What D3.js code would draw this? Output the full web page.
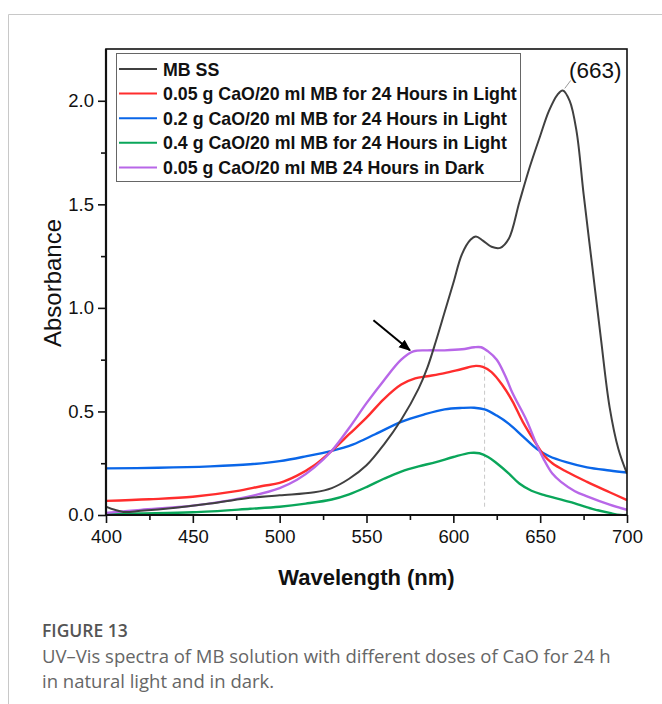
<!DOCTYPE html>
<html>
<head>
<meta charset="utf-8">
<script src="https://cdn.jsdelivr.net/npm/d3@7"></script>
<style>
  body { margin: 0; background: #fff; }
  svg { display: block; }
</style>
</head>
<body>
<svg id="chart" width="662" height="704"></svg>
<script>
// ---- data ----
const seriesNames = [
  "MB SS",
  "0.05 g CaO/20 ml MB for 24 Hours in Light",
  "0.2 g CaO/20 ml MB for 24 Hours in Light",
  "0.4 g CaO/20 ml MB for 24 Hours in Light",
  "0.05 g CaO/20 ml MB 24 Hours in Dark"
];
const seriesColors = ["#404040", "#ff2d2d", "#0a66e8", "#0aa65a", "#b867e8"];

const mbWavelength = [400,405,410,420,440,460,480,500,520,530,540,550,560,570,580,585,590,595,600,605,610,613,617,622,627,632,638,644,650,655,660,663,667,671,675,680,685,690,695,700];
const mbAbs        = [0.04,0.025,0.015,0.02,0.035,0.055,0.08,0.095,0.11,0.13,0.175,0.24,0.34,0.46,0.61,0.71,0.84,0.98,1.12,1.26,1.33,1.345,1.325,1.295,1.29,1.335,1.51,1.68,1.83,1.95,2.03,2.05,2.0,1.85,1.55,1.2,0.85,0.52,0.32,0.2];

const red05Wavelength = [400,425,450,475,490,500,510,520,530,540,550,560,570,578,585,595,605,613,617,622,628,634,640,648,652,657,665,677,690,700];
const red05Abs        = [0.068,0.076,0.088,0.115,0.14,0.155,0.19,0.24,0.31,0.39,0.47,0.56,0.63,0.66,0.67,0.685,0.705,0.72,0.715,0.69,0.63,0.55,0.45,0.34,0.29,0.25,0.21,0.16,0.11,0.072];

const blue02Wavelength = [400,430,460,483,500,515,530,542,555,570,583,595,605,612,618,625,632,640,648,655,665,677,690,700];
const blue02Abs        = [0.225,0.228,0.235,0.245,0.26,0.283,0.31,0.34,0.39,0.45,0.485,0.51,0.517,0.518,0.51,0.48,0.44,0.38,0.32,0.285,0.255,0.23,0.215,0.205];

const green04Wavelength = [400,420,450,483,500,515,530,540,550,560,570,580,590,600,610,615,620,625,632,638,645,652,667,680,690,696,700];
const green04Abs        = [0.005,0.008,0.013,0.03,0.04,0.055,0.075,0.10,0.135,0.175,0.21,0.235,0.255,0.28,0.30,0.298,0.28,0.25,0.20,0.152,0.117,0.097,0.063,0.03,0.01,0.0,0.0];

const darkWavelength = [400,420,450,480,500,510,520,530,540,550,560,570,577,585,595,605,612,616,620,625,630,634,642,648,652,657,662,670,677,690,700];
const darkAbs        = [0.01,0.025,0.045,0.085,0.13,0.17,0.23,0.31,0.42,0.54,0.65,0.75,0.79,0.795,0.795,0.80,0.81,0.81,0.79,0.75,0.67,0.59,0.46,0.34,0.27,0.20,0.16,0.115,0.09,0.05,0.025];

const xTicks = [400,450,500,550,600,650,700];
const xMinorTicks = [425,475,525,575,625,675];
const yTicks = [0.0,0.5,1.0,1.5,2.0];
const yMinorTicks = [0.25,0.75,1.25,1.75];

const peakLabel = "(663)";
const peakWavelength = 663;
const peakAbs = 2.05;
const dashedWavelength = 618;
const dashedRange = [0.04, 0.78];
const arrowFrom = [554, 0.94];
const arrowTo = [575, 0.795];

const xLabel = "Wavelength (nm)";
const yLabel = "Absorbance";
const figTitle = "FIGURE 13";
const captionLines = [
  "UV\u2013Vis spectra of MB solution with different doses of CaO for 24 h",
  "in natural light and in dark."
];

// ---- drawing ----
const svg = d3.select("#chart");
const L = 106, R = 627, T = 49, B = 515;
const x = d3.scaleLinear().domain([400, 700]).range([L, R]);
const y = d3.scaleLinear().domain([0, 2.25]).range([B, T]);
const FONT = "Liberation Sans, Arial, sans-serif";

// card border
svg.append("line").attr("x1", 8.5).attr("x2", 662).attr("y1", 14.5).attr("y2", 14.5).attr("stroke", "#c8c8c8").attr("stroke-width", 1);
svg.append("line").attr("x1", 8.5).attr("x2", 8.5).attr("y1", 14.5).attr("y2", 704).attr("stroke", "#c8c8c8").attr("stroke-width", 1);

const defs = svg.append("defs");
defs.append("clipPath").attr("id", "clip").append("rect")
  .attr("x", L).attr("y", T).attr("width", R - L).attr("height", B - T);
defs.append("marker").attr("id", "arrowhead").attr("viewBox", "0 0 10 10")
  .attr("refX", 9).attr("refY", 5).attr("markerWidth", 6).attr("markerHeight", 6)
  .attr("markerUnits", "strokeWidth")
  .attr("orient", "auto").append("path").attr("d", "M0,1 L10,5 L0,9 z").attr("fill", "#000");

// dashed vertical line
svg.append("line")
  .attr("x1", x(dashedWavelength)).attr("x2", x(dashedWavelength))
  .attr("y1", y(dashedRange[0])).attr("y2", y(dashedRange[1]))
  .attr("stroke", "#c8c8c8").attr("stroke-width", 1).attr("stroke-dasharray", "4,3");

const allSeries = [
  [mbWavelength, mbAbs],
  [red05Wavelength, red05Abs],
  [blue02Wavelength, blue02Abs],
  [green04Wavelength, green04Abs],
  [darkWavelength, darkAbs]
];

const line = d3.line().x(d => x(d[0])).y(d => y(d[1])).curve(d3.curveCatmullRom.alpha(0.5));
const g = svg.append("g").attr("clip-path", "url(#clip)");
const order = [2, 3, 1, 4, 0];
order.forEach(i => {
  const [wx, wy] = allSeries[i];
  const pts = wx.map((w, k) => [w, wy[k]]);
  g.append("path").datum(pts).attr("d", line)
    .attr("fill", "none").attr("stroke", seriesColors[i])
    .attr("stroke-width", i === 0 ? 2 : 2.4).attr("stroke-linejoin", "round");
});

// axes
const xAxis = d3.axisBottom(x).tickValues(xTicks).tickSize(8).tickPadding(7).tickFormat(d3.format("d"));
const xMinor = d3.axisBottom(x).tickValues(xMinorTicks).tickSize(5).tickFormat("");
const yAxis = d3.axisLeft(y).tickValues(yTicks).tickSize(8).tickPadding(4).tickFormat(d3.format(".1f"));
const yMinor = d3.axisLeft(y).tickValues(yMinorTicks).tickSize(5).tickFormat("");

function styleAxis(sel) {
  sel.select(".domain").remove();
  sel.selectAll(".tick line").attr("stroke", "#111").attr("stroke-width", 1.6);
  sel.selectAll(".tick text").attr("font-family", FONT)
    .attr("font-size", 18.5).attr("fill", "#111");
}
svg.append("g").attr("transform", `translate(0,${B})`).call(xAxis).call(styleAxis);
svg.append("g").attr("transform", `translate(0,${B})`).call(xMinor).call(styleAxis);
svg.append("g").attr("transform", `translate(${L},0)`).call(yAxis).call(styleAxis);
svg.append("g").attr("transform", `translate(${L},0)`).call(yMinor).call(styleAxis);

// frame
svg.append("rect").attr("x", L).attr("y", T).attr("width", R - L).attr("height", B - T)
  .attr("fill", "none").attr("stroke", "#111").attr("stroke-width", 1.6);
svg.append("line").attr("x1", L).attr("x2", L).attr("y1", T).attr("y2", B).attr("stroke", "#111").attr("stroke-width", 2.2);
svg.append("line").attr("x1", L).attr("x2", R).attr("y1", B).attr("y2", B).attr("stroke", "#111").attr("stroke-width", 2.2);

// axis titles
svg.append("text").attr("x", (L + R) / 2).attr("y", 585).attr("text-anchor", "middle")
  .attr("font-family", FONT).attr("font-weight", "bold")
  .attr("font-size", 22).attr("fill", "#111").text(xLabel);
svg.append("text").attr("transform", `translate(61,283) rotate(-90)`)
  .attr("text-anchor", "middle")
  .attr("font-family", FONT)
  .attr("font-size", 24).attr("fill", "#111").text(yLabel);

// legend
const lg = svg.append("g");
lg.append("rect").attr("x", 116.5).attr("y", 53.5).attr("width", 404).attr("height", 128)
  .attr("fill", "#fff").attr("stroke", "#666").attr("stroke-width", 1);
seriesNames.forEach((name, i) => {
  const yy = 69 + i * 24.6;
  lg.append("line").attr("x1", 119).attr("x2", 157).attr("y1", yy).attr("y2", yy)
    .attr("stroke", seriesColors[i]).attr("stroke-width", 2);
  lg.append("text").attr("x", 163).attr("y", yy + 6.5)
    .attr("font-family", FONT).attr("font-weight", "bold")
    .attr("font-size", 17.8).attr("fill", "#111").text(name);
});

// peak annotation
svg.append("line").attr("x1", x(peakWavelength) + 2).attr("y1", y(peakAbs) - 2)
  .attr("x2", x(peakWavelength) + 8).attr("y2", y(peakAbs) - 10)
  .attr("stroke", "#999").attr("stroke-width", 1);
svg.append("text").attr("x", 569).attr("y", 78)
  .attr("font-family", FONT)
  .attr("font-size", 22.5).attr("fill", "#111").text(peakLabel);

// arrow
svg.append("line").attr("x1", x(arrowFrom[0])).attr("y1", y(arrowFrom[1]))
  .attr("x2", x(arrowTo[0])).attr("y2", y(arrowTo[1]))
  .attr("stroke", "#000").attr("stroke-width", 2).attr("marker-end", "url(#arrowhead)");

// caption
svg.append("text").attr("x", 42).attr("y", 637)
  .attr("font-family", "Open Sans, Noto Sans, sans-serif").attr("font-weight", 600)
  .attr("font-size", 17.5).attr("fill", "#555").text(figTitle);
captionLines.forEach((t, i) => {
  svg.append("text").attr("x", 42).attr("y", 663 + i * 25)
    .attr("font-family", "Open Sans, Noto Sans, sans-serif")
    .attr("font-size", 18.5).attr("fill", "#666").text(t);
});
</script>
</body>
</html>
